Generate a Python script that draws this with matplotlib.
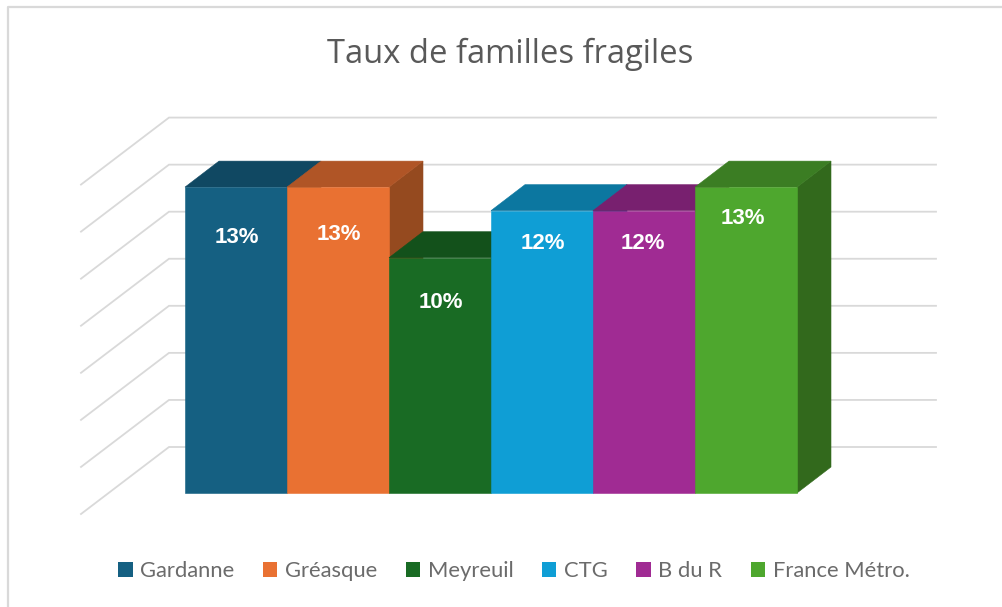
import matplotlib
matplotlib.use("Agg")
from matplotlib import pyplot as plt
from matplotlib.lines import Line2D
from matplotlib.patches import Patch

# data
communes = ["Gardanne", "Gréasque", "Meyreuil", "CTG", "B du R", "France Métro."]
taux = [13, 13, 10, 12, 12, 13]
niveaux_grille = [0, 2, 4, 6, 8, 10, 12, 14]

# colours: front, top, side
couleurs_face = ["#156082", "#E97132", "#196B24", "#0F9ED5", "#A02B93", "#4EA72E"]
couleurs_haut = ["#104862", "#B05526", "#13511B", "#0C77A0", "#78206F", "#3B7D23"]
couleurs_cote = ["#0D3A4E", "#954A1F", "#0F4116", "#0A6080", "#601A59", "#32691C"]

# pixels of the reference for one unit on each axis
PX_X = 102.0
PX_Y = 23.53
X0, Y0 = 185.0, 493.0
W, H = 1002, 607

# depth of the bars and of the chart floor, in data units
prof_x, prof_y = 34 / PX_X, 26 / PX_Y
decal_grille = 46 / PX_Y
gauche_fond, gauche_avant, droite_fond = (169 - X0) / PX_X, (81 - X0) / PX_X, (936 - X0) / PX_X
chute_grille = 67 / PX_Y

# how far below the top of the bar each label sits (pixels)
chute_labels = [50, 47, 45, 33, 33, 31]
decal_labels = [1, 1, 1, 1, -1, -3]

plt.rcParams["font.family"] = ["Lato", "DejaVu Sans"]

fig = plt.figure(figsize=(W / 100, H / 100), dpi=100)
ax = fig.add_axes([0, 0, 1, 1])
ax.set_xlim(-X0 / PX_X, (W - X0) / PX_X)
ax.set_ylim((Y0 - H) / PX_Y, Y0 / PX_Y)
ax.axis("off")

# frame of the chart, only left and top are in the crop
fig.add_artist(Line2D([7.5 / W, 7.5 / W, 1], [0, 1 - 6.5 / H, 1 - 6.5 / H], color="#D9D9D9", lw=1.6))

for niveau in niveaux_grille:
    y = niveau + decal_grille
    ax.plot([gauche_avant, gauche_fond, droite_fond], [y - chute_grille, y, y],
            color="#D9D9D9", lw=1.3, zorder=1, solid_joinstyle="miter")

for i, (valeur, face, haut, cote) in enumerate(zip(taux, couleurs_face, couleurs_haut, couleurs_cote)):
    ax.fill([i + 1, i + 1 + prof_x, i + 1 + prof_x, i + 1],
            [0, prof_y, valeur + prof_y, valeur], color=cote, lw=0.4, zorder=2 + i)
    ax.fill([i, i + prof_x, i + 1 + prof_x, i + 1],
            [valeur, valeur + prof_y, valeur + prof_y, valeur], color=haut, lw=0.4, zorder=2 + i)
    ax.fill([i, i + 1, i + 1, i], [0, 0, valeur, valeur], color=face, lw=0.4, zorder=2 + i)
    ax.annotate(f"{valeur}%", (i + 0.5, valeur), xytext=(decal_labels[i] * 0.72, -chute_labels[i] * 0.72),
                textcoords="offset points", ha="center", va="center", color="white",
                fontsize=16, fontweight="bold", family="Liberation Sans", zorder=20)

fig.text(510 / W, 1 - 54 / H, "Taux de familles fragiles", ha="center", va="center",
         fontsize=23.6, color="#595959", family="Open Sans")

poignees = [Patch(color=c, lw=0) for c in couleurs_face]
ax.legend(poignees, communes, ncol=6, loc="center", bbox_to_anchor=(514 / W, 1 - 571 / H),
          bbox_transform=fig.transFigure, frameon=False, fontsize=15.8, labelcolor="#6B6B6B",
          handlelength=0.65, handleheight=0.65, handletextpad=0.35, columnspacing=1.3,
          borderpad=0, borderaxespad=0)

fig.savefig("out.png", dpi=100)
